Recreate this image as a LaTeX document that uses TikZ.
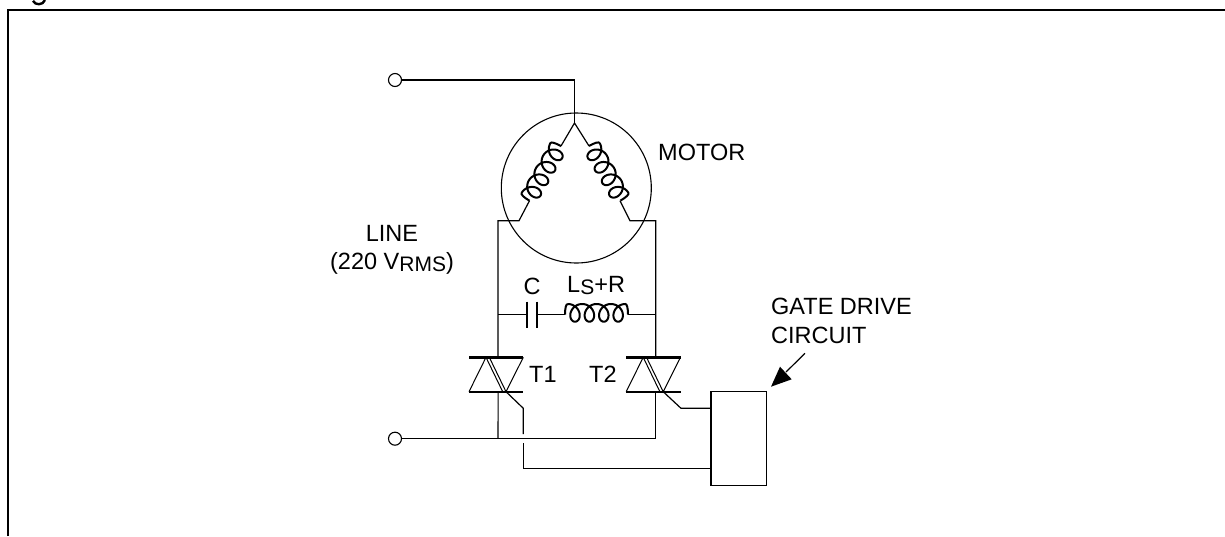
\documentclass[tikz,border=0pt]{standalone}
\usepackage{fontspec}
\setmainfont{Liberation Sans}
\usetikzlibrary{arrows.meta}
\newcommand{\bigtxt}{\fontsize{23.5}{28}\selectfont}
\newcommand{\subtxt}[1]{\raisebox{-2.2pt}{\fontsize{21}{24}\selectfont #1}}
\newcommand{\coilshape}{%
  \draw[coilline] (0,0) .. controls (0,-6.5) and (1,-10.7) .. (2.8,-10.7)
    plot[domain=-3.14159:21.9911,samples=260,smooth] ({10+2.29*\x-8*sin(\x r)},{-1.85+8.85*cos(\x r)})
    .. controls (62,-10.7) and (63,-6.5) .. (63,0);}
\tikzset{
  wire/.style={draw=black,line width=1.2pt,line join=miter},
  bar/.style={draw=black,line width=2.4pt},
  thin tri/.style={draw=black,line width=1pt,line join=miter},
  coilline/.style={draw=black,line width=2pt},
  term/.style={circle,draw=black,line width=1.1pt,fill=white,minimum size=13pt,inner sep=0pt},
  lbl/.style={anchor=base west,inner sep=0pt,font=\bigtxt},
  lblc/.style={anchor=base,inner sep=0pt,font=\bigtxt,align=center},
  pt/.style={coordinate}
}
\begin{document}
\begin{tikzpicture}[x=1pt,y=-1pt]
\useasboundingbox (0,0) rectangle (1225,536);
% frame
\coordinate (fa) at (8,536); \coordinate (fb) at (8,10); \coordinate (fc) at (1225,10);
\draw[line width=2.2pt,line join=miter] (fa) -- (fb) -- (fc);
\draw[line width=2.4pt] (33,0.8) .. controls (35,5.5) and (43,5.5) .. (45,0);
% motor
\node[circle,draw=black,line width=1.1pt,minimum size=150pt,inner sep=0pt] (motor) at (576.3,188) {};
\node[term] (ta) at (395,80) {};
\node[term] (tb) at (395,438.7) {};
\coordinate (star) at (574.5,123);
\coordinate (nt) at (574.5,80);
\coordinate (cl1) at (561,146); \coordinate (cl2) at (529.5,200.7);
\coordinate (cr1) at (589,146); \coordinate (cr2) at (620,200.7);
\coordinate (ml) at (519,220.7); \coordinate (mr) at (630,220.7);
\coordinate (l0) at (498,220.7); \coordinate (r0) at (655.7,220.7);
\draw[wire] (ta) -- (nt) -- (star);
\draw[wire] (cl1) -- (star) -- (cr1);
\draw[wire] (cl2) -- (ml) -- (l0) -- (498,357.3);
\draw[wire] (cr2) -- (mr) -- (r0) -- (655.7,357.3);
\begin{scope}[shift={(529.5,200.7)},rotate=60]\coilshape\end{scope}
\begin{scope}[shift={(589,146)},rotate=-60]\coilshape\end{scope}
% C and L
\coordinate (cl) at (498,314.7); \coordinate (cr) at (655.7,314.7);
\coordinate (p1) at (527.3,314.7); \coordinate (p2) at (536.7,314.7);
\coordinate (ls) at (565,314.7); \coordinate (le) at (628,314.7);
\draw[wire] (cl) -- (p1);
\draw[wire] (p2) -- (ls);
\draw[wire] (le) -- (cr);
\draw[line width=2pt] (527.3,301.7) -- (527.3,328.3);
\draw[line width=2pt] (536.7,301.7) -- (536.7,328.3);
\begin{scope}[shift={(565,314.7)}]\coilshape\end{scope}
% triacs
\foreach \dx/\nm in {0/a,157.2/b}{
  \begin{scope}[shift={(\dx,0)}]
    \draw[bar] (469,357.3) -- (523.3,357.3);
    \draw[bar] (469,391.7) -- (523.3,391.7);
    \draw[thin tri] (469,391.7) -- (486,357.3) -- (502.7,391.7);
    \draw[thin tri] (523.3,357.3) -- (506,391.7) -- (489.3,357.3);
  \end{scope}
}
% bottom wires
\coordinate (bl) at (498,438.7); \coordinate (br) at (655.7,438.7);
\draw[wire] (tb) -- (br) -- (655.7,391.7);
\draw[wire] (498.1,391.7) -- (498.1,420) -- (bl);
% gate box
\node[draw=black,line width=1.2pt,minimum width=55.7pt,minimum height=94pt,inner sep=0pt] (gbox) at (738.9,438.7) {};
\coordinate (g1) at (523.3,408.3); \coordinate (g1up) at (523.3,434);
\coordinate (g1dn) at (523.3,443.3); \coordinate (g1c) at (523.3,468.3);
\coordinate (g2) at (681,408.3);
\draw[wire] (506,391.7) -- (g1) -- (g1up);
\draw[wire] (g1dn) -- (g1c) -- (gbox.west |- g1c);
\draw[wire] (663.2,391.7) -- (g2) -- (gbox.west |- g2);
% arrow
\coordinate (atail) at (805,353.3); \coordinate (ahead) at (771,386.7);
\draw[line width=1.2pt] (atail) -- (786,372);
\fill (ahead) -- (780,366.7) -- (791.7,379.3) -- cycle;
% labels
\node[lbl] (lm) at (658,160) {MOTOR};
\node[lblc] (ll) at (392,241) {LINE};
\node[lblc] (lv) at (392,269) {(220 V\subtxt{RMS})};
\node[lblc] (lc) at (532,294) {C};
\node[lbl] (lr) at (567,292) {L\subtxt{S}+R};
\node[lbl] (t1) at (529,382) {T1};
\node[lbl] (t2) at (589,382) {T2};
\node[lbl] (gd) at (771,314.5) {GATE DRIVE};
\node[lbl] (gc) at (771,343) {CIRCUIT};
\end{tikzpicture}
\end{document}
